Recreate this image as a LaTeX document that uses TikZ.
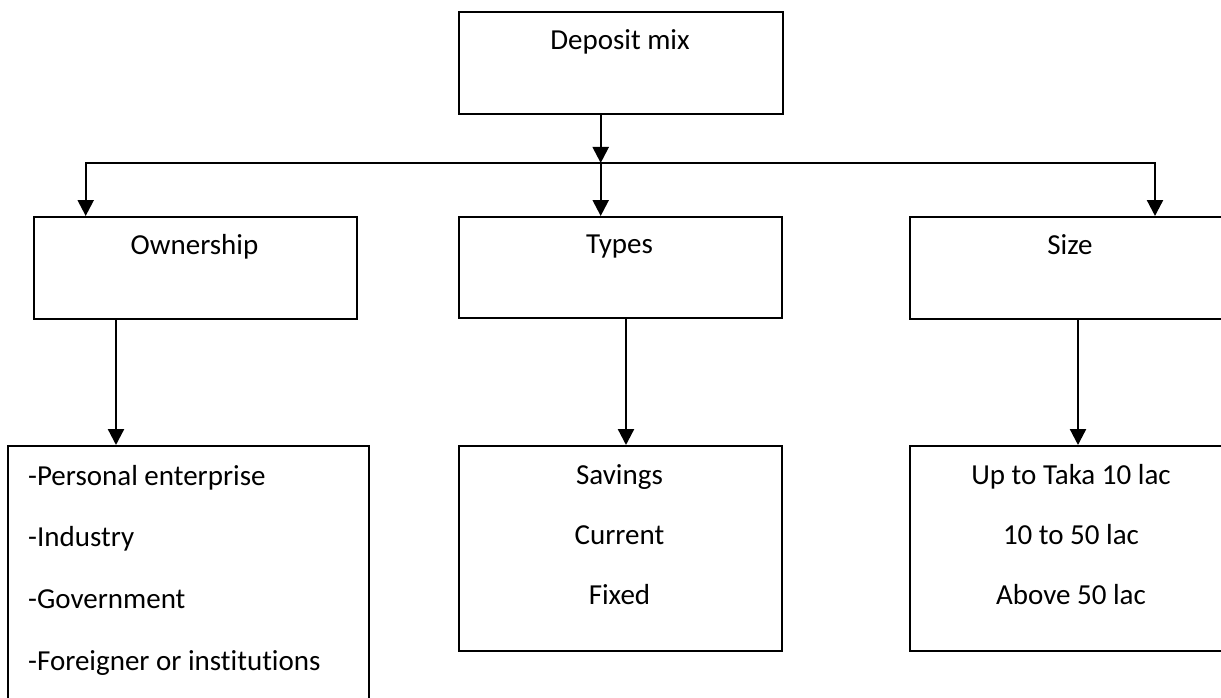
\documentclass[tikz,border=0pt]{standalone}
\usepackage{fontspec}
\setmainfont[Ligatures={NoCommon}]{Carlito}
\usetikzlibrary{arrows.meta}
\begin{document}
\begin{tikzpicture}[x=1pt,y=-1pt,
  box/.style={draw, line width=2pt, rectangle, inner sep=0pt, anchor=north west},
  lbl/.style={font=\fontsize{29}{35}\selectfont, anchor=base, inner sep=0pt},
  lbll/.style={lbl, anchor=base west},
  arr/.style={line width=2.3pt, -{Triangle[width=16pt,length=16pt]}}]
\useasboundingbox (0,0) rectangle (1221,698);
\clip (0,0) rectangle (1221,698);
% boxes
\node[box, minimum width=324pt, minimum height=102pt] (top) at (458,11) {};
\node[box, minimum width=323pt, minimum height=102pt] (own) at (33,216) {};
\node[box, minimum width=323pt, minimum height=101pt] (typ) at (458,216) {};
\node[box, minimum width=322pt, minimum height=102pt] (siz) at (909,216) {};
\node[box, minimum width=361pt, minimum height=280pt] (ownb) at (7,445) {};
\node[box, minimum width=323pt, minimum height=205pt] (typb) at (458,445) {};
\node[box, minimum width=322pt, minimum height=205pt] (sizb) at (909,445) {};
% labels
\node[lbl] (tTop) at (620,50) {Deposit mix};
\node[lbl] (tOwn) at (194.5,254) {Ownership};
\node[lbl] (tTyp) at (619.5,253) {Types};
\node[lbl] (tSiz) at (1070,254) {Size};
\node[lbll] (o1) at (28,485) {-Personal enterprise};
\node[lbll] (o2) at (28,546) {-Industry};
\node[lbll] (o3) at (28,608) {-Government};
\node[lbll] (o4) at (28,670) {-Foreigner or institutions};
\node[lbl] (t1) at (619.5,484) {Savings};
\node[lbl] (t2) at (619.5,544) {Current};
\node[lbl] (t3) at (619.5,604) {Fixed};
\node[lbl] (s1) at (1071,484) {Up to Taka 10 lac};
\node[lbl] (s2) at (1071,544) {10 to 50 lac};
\node[lbl] (s3) at (1071,604) {Above 50 lac};
% connectors
\coordinate (jl) at (85.7,163);
\coordinate (jc) at (600.7,163);
\coordinate (jr) at (1155,163);
\coordinate (d1) at (116,0);
\coordinate (d2) at (626,0);
\coordinate (d3) at (1078,0);
\draw[arr] (top.south -| jc) -- (jc);
\draw[arr] (jc) -| (own.north -| jl);
\draw[arr] (jc) -| (siz.north -| jr);
\draw[arr] (jc) -- (typ.north -| jc);
\draw[arr] (own.south -| d1) -- (ownb.north -| d1);
\draw[arr] (typ.south -| d2) -- (typb.north -| d2);
\draw[arr] (siz.south -| d3) -- (sizb.north -| d3);
\end{tikzpicture}
\end{document}
